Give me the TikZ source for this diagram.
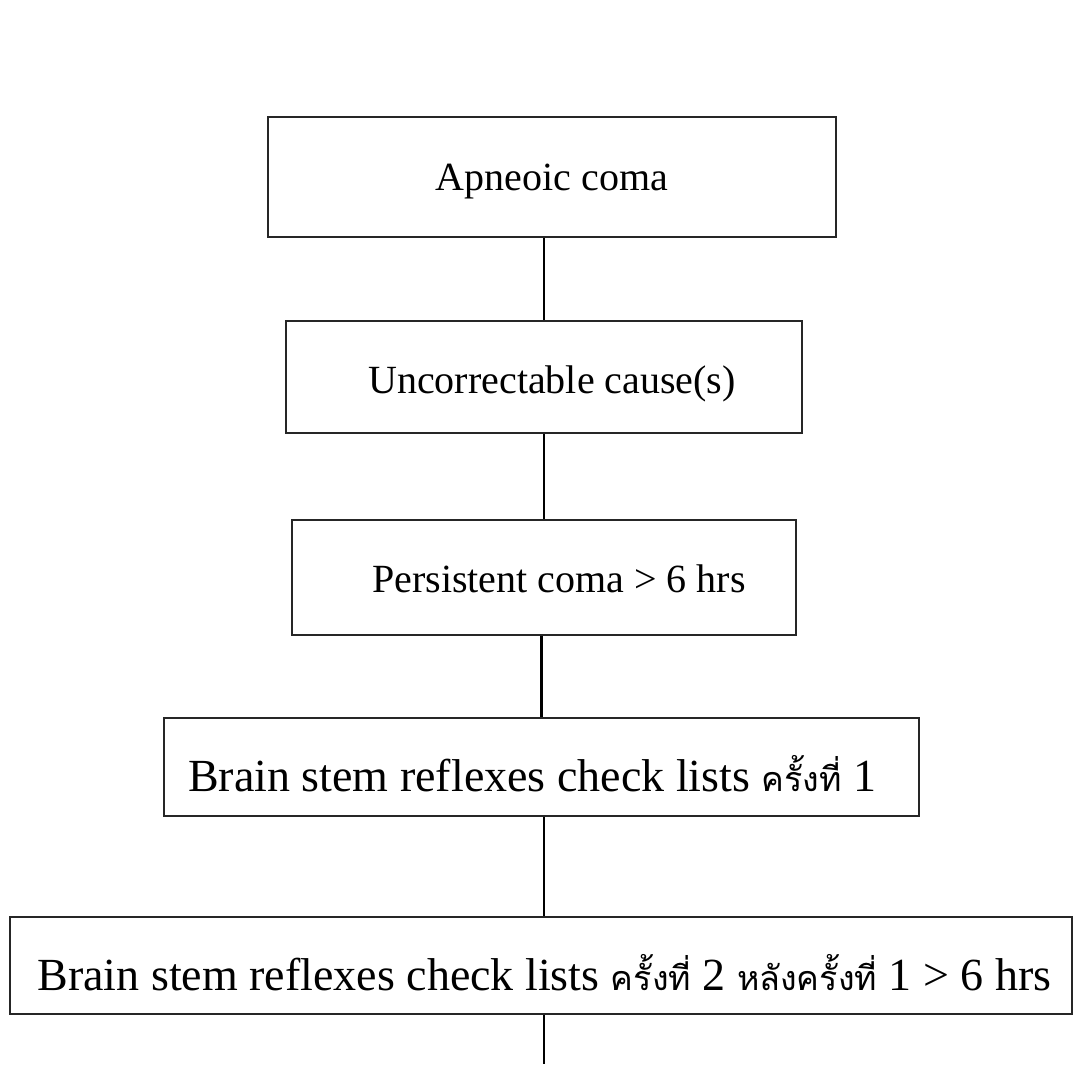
\documentclass[tikz,border=0pt]{standalone}
\usepackage{fontspec}
\setmainfont{Liberation Serif}
\newfontfamily\thaifont[Script=Thai,Scale=0.74]{Loma}
\newcommand{\thaitext}[1]{{\thaifont #1}}
\begin{document}
\begin{tikzpicture}[x=0.75pt,y=-0.75pt,
  flowbox/.style={draw=black!85, line width=1.6pt, inner sep=0pt, text depth=0pt, align=center},
  smalltext/.style={font=\fontsize{30pt}{36pt}\selectfont},
  bigtext/.style={font=\fontsize{34.5pt}{40pt}\selectfont},
  conn/.style={draw=black, line width=1.6pt}]
\useasboundingbox (0,0) rectangle (1074,1066);
\fill[white] (0,0) rectangle (1074,1066);

\node[flowbox, smalltext, minimum width=426pt, minimum height=90pt, text height=19.9pt]
  (b1) at (552,177) {Apneoic coma};
\node[flowbox, smalltext, minimum width=387pt, minimum height=84pt, text height=24.4pt]
  (b2) at (544,377) {\hspace*{12pt}Uncorrectable cause(s)};
\node[flowbox, smalltext, minimum width=378pt, minimum height=86.25pt, text height=22.9pt]
  (b3) at (544,577.5) {\hspace*{22.5pt}Persistent coma > 6 hrs};
\node[flowbox, bigtext, minimum width=566.25pt, minimum height=73.5pt, text height=36.3pt]
  (b4) at (541.5,767) {Brain stem reflexes check lists \thaitext{ครั้งที่} 1\hspace*{14pt}};
\node[flowbox, bigtext, minimum width=796.5pt, minimum height=72.75pt, text height=37.3pt]
  (b5) at (541,965.5) {\hspace*{5pt}Brain stem reflexes check lists \thaitext{ครั้งที่} 2 \thaitext{หลังครั้งที่} 1 > 6 hrs};
\coordinate (end) at (544,1064);

\draw[conn] (b2.north |- b1.south) -- (b2.north);
\draw[conn] (b2.south) -- (b3.north);
\draw[conn] (b4.north |- b3.south) -- (b4.north);
\draw[conn] (end |- b4.south) -- (end |- b5.north);
\draw[conn] (end |- b5.south) -- (end);
\end{tikzpicture}
\end{document}
